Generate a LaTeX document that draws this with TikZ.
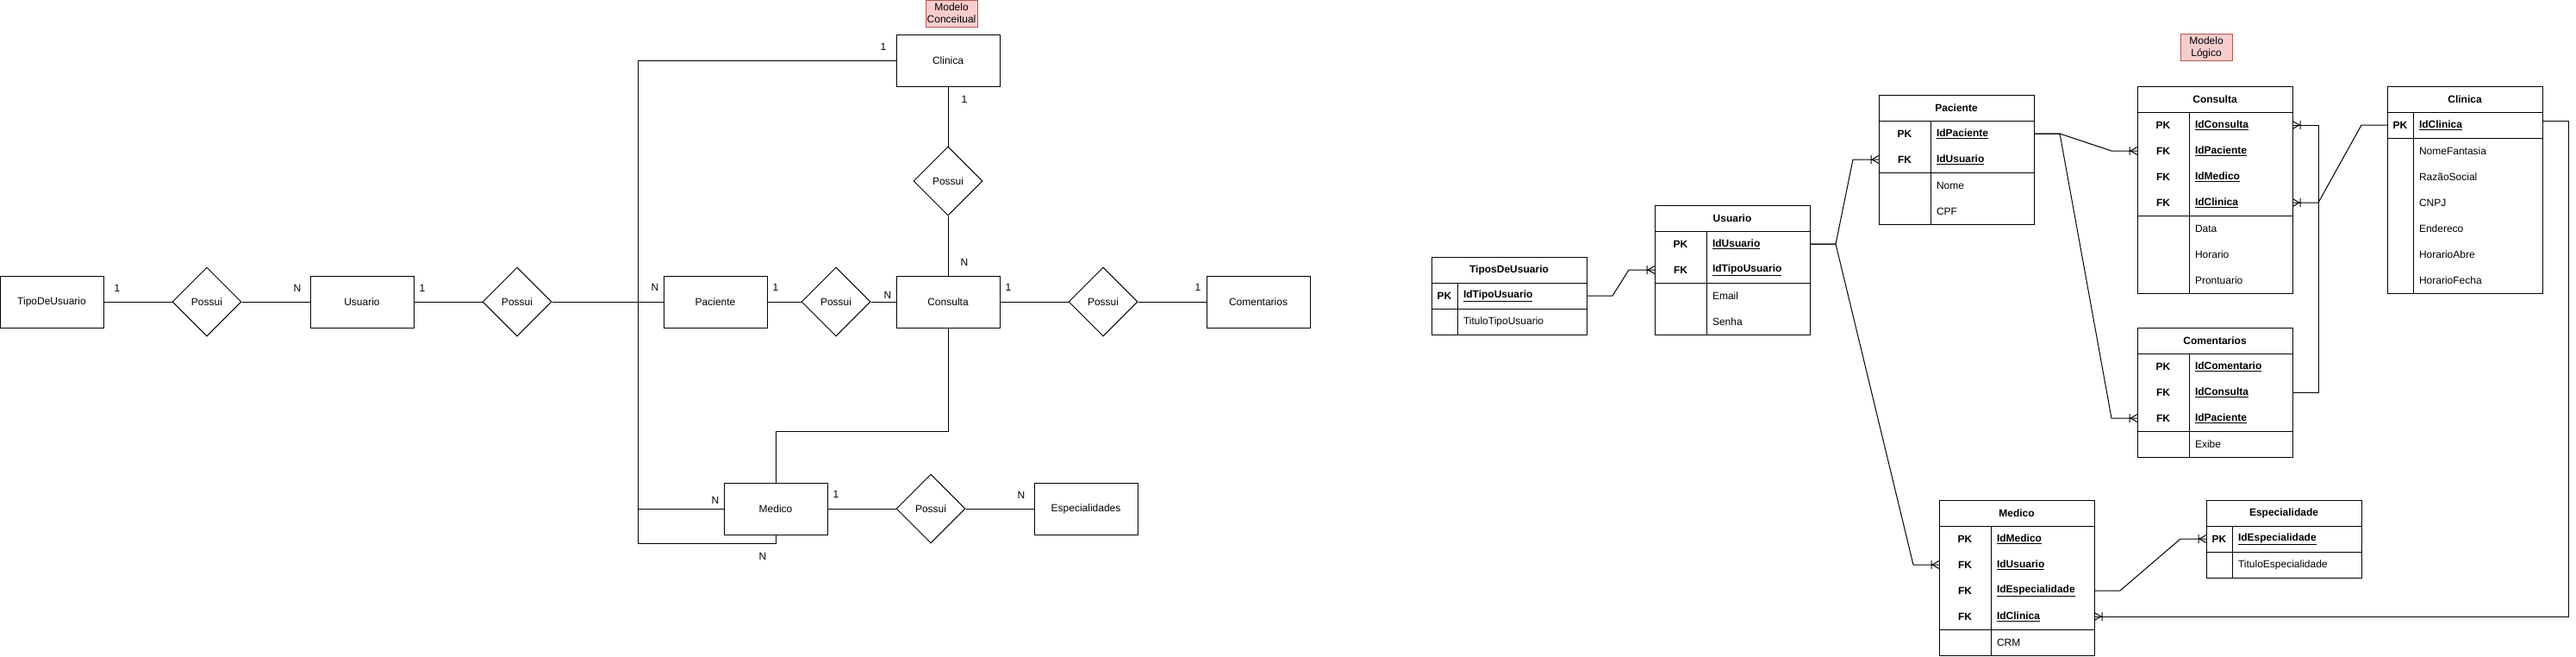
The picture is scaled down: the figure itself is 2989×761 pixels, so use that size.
\documentclass[tikz,border=0pt]{standalone}
\usepackage{fontspec}
\setmainfont{Liberation Sans}
\usetikzlibrary{shapes.geometric,calc,arrows.meta}
\definecolor{notefill}{RGB}{248,206,204}
\definecolor{notedraw}{RGB}{184,84,80}
\pgfdeclarearrow{
  name = crowfoot,
  setup code = {
    \pgfarrowssettipend{0pt}
    \pgfarrowssetlineend{0pt}
    \pgfarrowssetbackend{-10pt}
    \pgfarrowshullpoint{0pt}{5pt}
    \pgfarrowshullpoint{0pt}{-5pt}
    \pgfarrowshullpoint{-10pt}{0pt}
  },
  drawing code = {
    \pgfsetdash{}{0pt}
    \pgfpathmoveto{\pgfqpoint{0pt}{4.5pt}}
    \pgfpathlineto{\pgfqpoint{-8pt}{0pt}}
    \pgfpathlineto{\pgfqpoint{0pt}{-4.5pt}}
    \pgfpathmoveto{\pgfqpoint{-9pt}{5pt}}
    \pgfpathlineto{\pgfqpoint{-9pt}{-5pt}}
    \pgfusepathqstroke
  }
}
\newcommand{\dbtable}[7]{%
  \pgfmathsetmacro{\fieldw}{#3-#4-14}
  \begin{scope}[shift={(#2)}]
    \node[tablehead,minimum width=#3] (#1) at (#3/2,15) {#5};
    \foreach \key/\field [count=\i] in {#6}{
      \node[keycell,minimum width=#4] (#1-k\i) at (#4/2,15+30*\i) {\key};
      \node[fieldcell,text width=\fieldw pt] (#1-f\i) at ({#4+(#3-#4)/2},15+30*\i) {\bfseries\underline{\field}};
      \xdef\lastkey{\i}
    }
    \pgfmathtruncatemacro{\firstattr}{\lastkey+1}
    \foreach \field [count=\j from \firstattr] in {#7}{
      \node[keycell,minimum width=#4] (#1-k\j) at (#4/2,15+30*\j) {};
      \node[fieldcell,text width=\fieldw pt] (#1-f\j) at ({#4+(#3-#4)/2},15+30*\j) {\field};
      \xdef\lastrow{\j}
    }
    \draw (#1-k1.north west) rectangle (#1-f\lastkey.south east);
    \draw (#1-k\firstattr.north west) rectangle (#1-f\lastrow.south east);
    \draw (#1-k1.north east) -- (#1-k\lastrow.south east);
  \end{scope}
}

\begin{document}
\begin{tikzpicture}[
  x=1pt,y=-1pt,
  line width=1pt,
  every node/.style={font=\fontsize{12}{14}\selectfont},
  entity/.style={draw,minimum width=120,minimum height=60,inner sep=0},
  relation/.style={draw,diamond,minimum width=80,minimum height=80,inner sep=0},
  cardinal/.style={inner sep=0},
  note/.style={draw=notedraw,fill=notefill,minimum width=60,minimum height=31,inner sep=0,align=center},
  tablehead/.style={draw,minimum height=30,inner sep=0,outer sep=0,execute at begin node=\bfseries},
  keycell/.style={minimum height=30,inner sep=0,outer sep=0,execute at begin node=\bfseries},
  fieldcell/.style={minimum height=30,inner xsep=7pt,inner ysep=0,outer sep=0,align=left},
  fk/.style={-crowfoot},
  ]
  \useasboundingbox (0,0) rectangle (2989,761);

  \node[note] (conceitual) at (1104,15.5) {Modelo\\Conceitual};
  \node[entity] (tipo) at (60,350) {TipoDeUsuario};
  \node[relation] (r1) at (240,350) {Possui};
  \node[entity] (usuario) at (420,350) {Usuario};
  \node[relation] (r2) at (600,350) {Possui};
  \node[entity] (paciente) at (830,350) {Paciente};
  \node[relation] (r3) at (970,350) {Possui};
  \node[entity] (consulta) at (1100,350) {Consulta};
  \node[relation] (r4) at (1280,350) {Possui};
  \node[entity] (comentarios) at (1460,350) {Comentarios};
  \node[entity] (clinica) at (1100,70) {Clinica};
  \node[relation] (r5) at (1100,210) {Possui};
  \node[entity] (medico) at (900,590) {Medico};
  \node[relation] (r6) at (1080,590) {Possui};
  \node[entity] (especialidades) at (1260,590) {Especialidades};
  \coordinate (busTop) at (740,70);
  \coordinate (busBot) at (740,630);
  \coordinate (cmElbow) at (1100,500);

  \draw (tipo) -- (r1) -- (usuario) -- (r2) -- (paciente) -- (r3) -- (consulta) -- (r4) -- (comentarios);
  \draw (clinica) -- (r5) -- (consulta);
  \draw (medico) -- (r6) -- (especialidades);
  \draw (clinica.west) -- (busTop) |- (medico.west);
  \draw (r2.east) -| (busBot) -| (medico.south);
  \draw (consulta.south) -- (cmElbow) -| (medico.north);

  \foreach \pos/\txt [count=\k] in {
    {136,334}/1, {345,334}/N, {490,334}/1, {760,333}/N, {900,333}/1,
    {1030,342}/N, {1170,333}/1, {1390,333}/1, {1025,54}/1, {1119,115}/1,
    {1119,304}/N, {830,580}/N, {885,645}/N, {970,573}/1, {1185,574}/N}{
    \node[cardinal] (card\k) at (\pos) {\txt};
  }

  \node[note] (logico) at (2560,55) {Modelo\\Lógico};
  \dbtable{tpu}{1661,298}{180}{30}{TiposDeUsuario}{PK/IdTipoUsuario}{TituloTipoUsuario}
  \dbtable{usu}{1920,238}{180}{60}{Usuario}{PK/IdUsuario,FK/IdTipoUsuario}{Email,Senha}
  \dbtable{pac}{2180,110}{180}{60}{Paciente}{PK/IdPaciente,FK/IdUsuario}{Nome,CPF}
  \dbtable{con}{2480,100}{180}{60}{Consulta}{PK/IdConsulta,FK/IdPaciente,FK/IdMedico,FK/IdClinica}{Data,Horario,Prontuario}
  \dbtable{com}{2480,380}{180}{60}{Comentarios}{PK/IdComentario,FK/IdConsulta,FK/IdPaciente}{Exibe}
  \dbtable{cli}{2770,100}{180}{30}{Clinica}{PK/IdClinica}{NomeFantasia,RazãoSocial,CNPJ,Endereco,HorarioAbre,HorarioFecha}
  \dbtable{med}{2250,580}{180}{60}{Medico}{PK/IdMedico,FK/IdUsuario,FK/IdEspecialidade,FK/IdClinica}{CRM}
  \dbtable{esp}{2560,580}{180}{30}{Especialidade}{PK/IdEspecialidade}{TituloEspecialidade}

  \draw[fk] (tpu-f1.east) -- ++(30,0) -- ([xshift=-30pt]usu-k2.west) -- (usu-k2.west);
  \draw[fk] (usu-f1.east) -- ++(30,0) -- ([xshift=-30pt]pac-k2.west) -- (pac-k2.west);
  \draw[fk] (usu-f1.east) -- ++(30,0) -- ([xshift=-30pt]med-k2.west) -- (med-k2.west);
  \draw[fk] (pac-f1.east) -- ++(30,0) -- ([xshift=-30pt]con-k2.west) -- (con-k2.west);
  \draw[fk] (pac-f1.east) -- ++(30,0) -- ([xshift=-30pt]com-k3.west) -- (com-k3.west);
  \draw[fk] (com-f2.east) -- ++(30,0) |- (con-f1.east);
  \draw[fk] (cli-k1.west) -- ++(-30,0) -- ([xshift=30pt]con-f4.east) -- (con-f4.east);
  \draw[fk] (med-f3.east) -- ++(30,0) -- ([xshift=-30pt]esp-k1.west) -- (esp-k1.west);
  \draw[fk] ([yshift=5pt]cli-f1.east) -- ++(30,0) |- (med-f4.east);
\end{tikzpicture}
\end{document}
